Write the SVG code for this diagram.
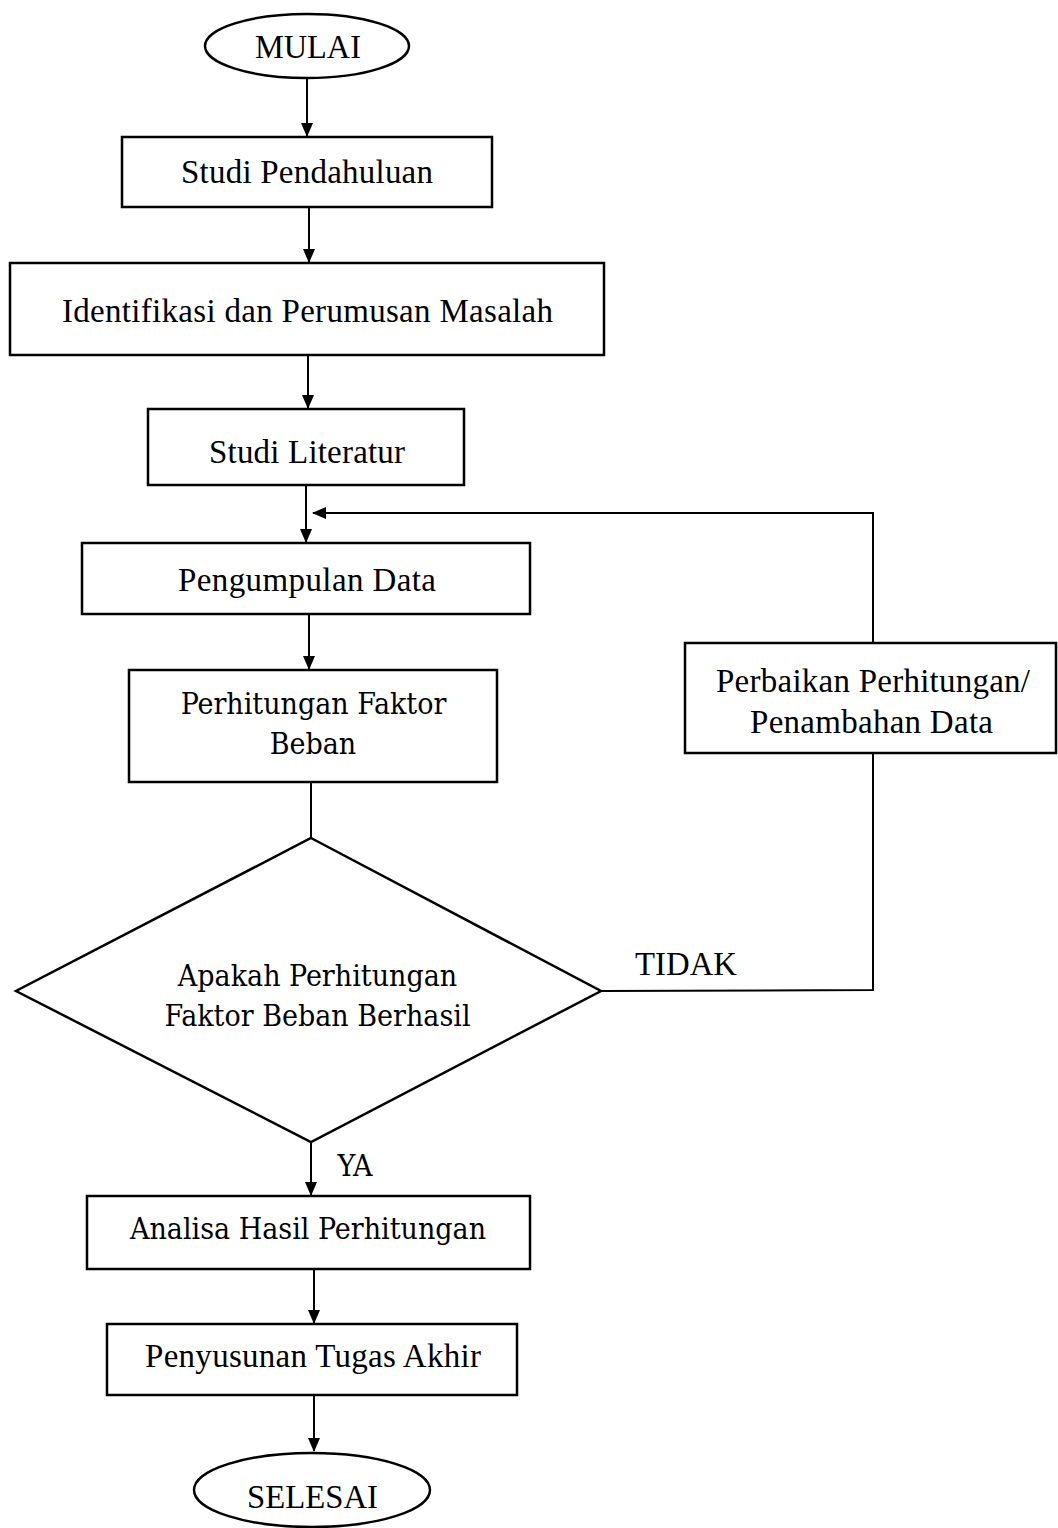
<svg xmlns="http://www.w3.org/2000/svg" width="1058" height="1528" viewBox="0 0 1058 1528">
<style>
.box{fill:#fff;stroke:#000;stroke-width:2.5}
.t{font-family:"Liberation Serif","Times New Roman",serif;font-size:33px;fill:#000;text-anchor:middle;dominant-baseline:central}
.c{font-family:"DejaVu Serif Condensed","DejaVu Serif",serif;font-size:30px;fill:#000;text-anchor:middle;dominant-baseline:central}
.ln{fill:none;stroke:#000;stroke-width:2}
</style>
<defs>
<marker id="ah" markerWidth="14" markerHeight="12" refX="13" refY="6" orient="auto" markerUnits="userSpaceOnUse" viewBox="0 0 14 12">
<path d="M0,0 L14,6 L0,12 Z" fill="#000"/>
</marker>
</defs>
<g id="connectors">
<line class="ln" x1="307" y1="78" x2="307" y2="136" marker-end="url(#ah)"/>
<line class="ln" x1="309" y1="207" x2="309" y2="262" marker-end="url(#ah)"/>
<line class="ln" x1="308" y1="355" x2="308" y2="408" marker-end="url(#ah)"/>
<line class="ln" x1="306" y1="485" x2="306" y2="542" marker-end="url(#ah)"/>
<line class="ln" x1="309" y1="614" x2="309" y2="669" marker-end="url(#ah)"/>
<line class="ln" x1="311" y1="782" x2="311" y2="837"/>
<line class="ln" x1="311" y1="1142" x2="311" y2="1195" marker-end="url(#ah)"/>
<line class="ln" x1="314" y1="1269" x2="314" y2="1323" marker-end="url(#ah)"/>
<line class="ln" x1="314" y1="1395" x2="314" y2="1451" marker-end="url(#ah)"/>
<polyline class="ln" points="601,991 873,990 873,513 313,513" marker-end="url(#ah)"/>
</g>
<g id="mulai">
<ellipse class="box" cx="307" cy="46" rx="102" ry="32"/>
<text class="t" x="308" y="47" textLength="106" lengthAdjust="spacingAndGlyphs">MULAI</text>
</g>
<g id="studi-pendahuluan">
<rect class="box" x="122" y="137" width="370" height="70"/>
<text class="t" x="307" y="172" textLength="252" lengthAdjust="spacing">Studi Pendahuluan</text>
</g>
<g id="identifikasi">
<rect class="box" x="10" y="263" width="594" height="92"/>
<text class="t" x="307.5" y="311" textLength="491" lengthAdjust="spacing">Identifikasi  dan Perumusan  Masalah</text>
</g>
<g id="studi-literatur">
<rect class="box" x="148" y="409" width="316" height="76"/>
<text class="t" x="307" y="452" textLength="196" lengthAdjust="spacing">Studi Literatur</text>
</g>
<g id="pengumpulan-data">
<rect class="box" x="82" y="543" width="448" height="71"/>
<text class="t" x="307" y="580" textLength="258" lengthAdjust="spacing">Pengumpulan  Data</text>
</g>
<g id="perhitungan">
<rect class="box" x="129" y="670" width="368" height="112"/>
<text class="c" x="313.5" y="703">Perhitungan Faktor</text>
<text class="c" x="313" y="743">Beban</text>
</g>
<g id="keputusan">
<polygon class="box" points="311,838 601,991 311,1142 16,991"/>
<text class="c" x="317.5" y="975">Apakah Perhitungan</text>
<text class="c" x="317.5" y="1015">Faktor Beban Berhasil</text>
</g>
<text class="t" x="686" y="964" textLength="102" lengthAdjust="spacingAndGlyphs">TIDAK</text>
<text class="c" x="355" y="1165">YA</text>
<g id="perbaikan">
<rect class="box" x="685" y="643" width="371" height="110"/>
<text class="t" x="873" y="681" textLength="314" lengthAdjust="spacing">Perbaikan Perhitungan/</text>
<text class="t" x="871.5" y="722" textLength="243" lengthAdjust="spacing">Penambahan  Data</text>
</g>
<g id="analisa">
<rect class="box" x="87" y="1196" width="443" height="73"/>
<text class="c" x="308" y="1228">Analisa Hasil Perhitungan</text>
</g>
<g id="penyusunan">
<rect class="box" x="107" y="1324" width="410" height="71"/>
<text class="t" x="313" y="1356" textLength="336" lengthAdjust="spacing">Penyusunan  Tugas Akhir</text>
</g>
<g id="selesai">
<ellipse class="box" cx="312" cy="1490" rx="118" ry="37"/>
<text class="t" x="312.5" y="1497" textLength="131" lengthAdjust="spacingAndGlyphs">SELESAI</text>
</g>
</svg>
